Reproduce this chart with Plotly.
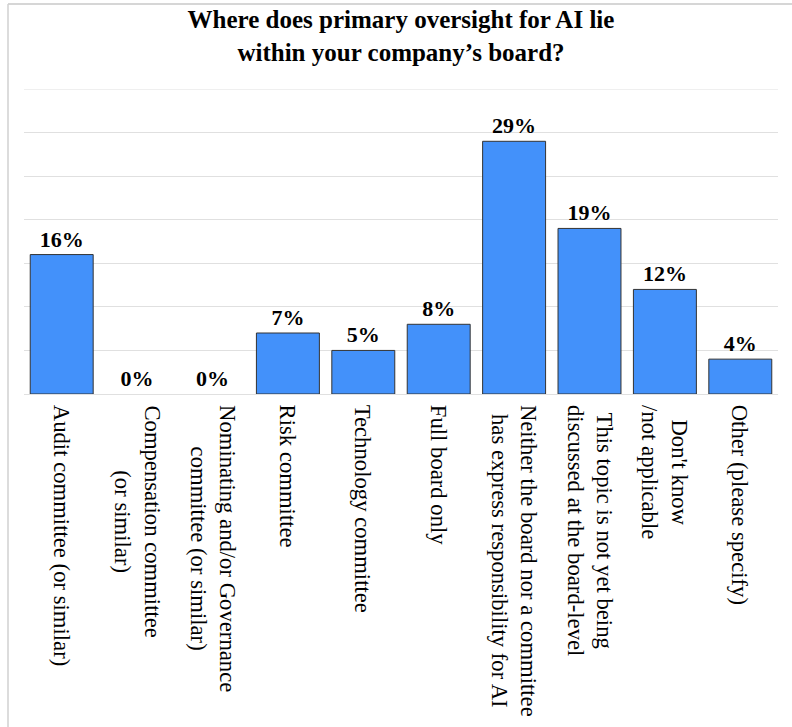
import plotly.graph_objects as go

title_text = "Where does primary oversight for AI lie<br>within your company’s board?"
categories = [
    "Audit committee (or similar)",
    "Compensation committee<br>(or similar)",
    "Nominating and/or Governance<br>committee (or similar)",
    "Risk committee",
    "Technology committee",
    "Full board only",
    "Neither the board nor a committee<br>has express responsibility for AI",
    "This topic is not yet being<br>discussed at the board-level",
    "Don't know<br>/not applicable",
    "Other (please specify)",
]
values = [16, 0, 0, 7, 5, 8, 29, 19, 12, 4]
value_labels = [f"{v}%" for v in values]
y_max = 35

SERIF = "Liberation Serif, Times New Roman, serif"
W, H = 792, 727
ML, MR, MT, MB = 24, 14, 89, 333
PW = W - ML - MR
PH = H - MT - MB

def px_x(px):
    return (px - ML) / PW

def px_y(py):
    return (H - MB - py) / PH

outline_widths = [1 if v > 0 else 0 for v in values]

fig = go.Figure(go.Bar(
    x=categories,
    y=values,
    text=value_labels,
    textposition="outside",
    textfont=dict(family=SERIF, size=22, color="#000000", weight="bold"),
    marker=dict(color="#4391fa", line=dict(color="#333333", width=outline_widths)),
    cliponaxis=False,
))

annotations = []
for cat in categories:
    annotations.append(dict(
        x=cat, xref="x", y=0, yref="paper",
        text=cat, showarrow=False, textangle=90,
        xanchor="center", yanchor="top", yshift=-9, align="center",
        font=dict(family=SERIF, size=22.7, color="#000000"),
    ))

fig.update_layout(
    width=W, height=H,
    margin=dict(l=ML, r=MR, t=MT, b=MB),
    paper_bgcolor="white", plot_bgcolor="white",
    bargap=0.165,
    showlegend=False,
    title=dict(
        text=title_text, x=0.5, xref="paper", xanchor="center",
        y=1 - 28 / H, yref="container", yanchor="top",
        font=dict(family=SERIF, size=25, color="#000000", weight="bold"),
    ),
    xaxis=dict(showticklabels=False, showgrid=False, showline=False, ticks=""),
    yaxis=dict(range=[0, y_max], dtick=5, showticklabels=False, showgrid=True,
               gridcolor="#e0e0e0", gridwidth=1, zeroline=True,
               zerolinecolor="#e0e0e0", zerolinewidth=1, ticks=""),
    annotations=annotations,
    shapes=[
        dict(type="line", xref="paper", yref="y",
             x0=0, x1=1, y0=y_max, y1=y_max, layer="below",
             line=dict(color="#e0e0e0", width=1)),
        dict(type="line", xref="paper", yref="paper",
             x0=px_x(8), x1=px_x(W + 5), y0=px_y(4), y1=px_y(4),
             line=dict(color="#c8c8c8", width=1.5)),
        dict(type="line", xref="paper", yref="paper",
             x0=px_x(8), x1=px_x(8), y0=px_y(4), y1=px_y(H + 5),
             line=dict(color="#d0d0d0", width=1.5)),
    ],
)

fig.write_html("out.html", config={"displayModeBar": False},
               post_script="document.body.style.margin='0';")
